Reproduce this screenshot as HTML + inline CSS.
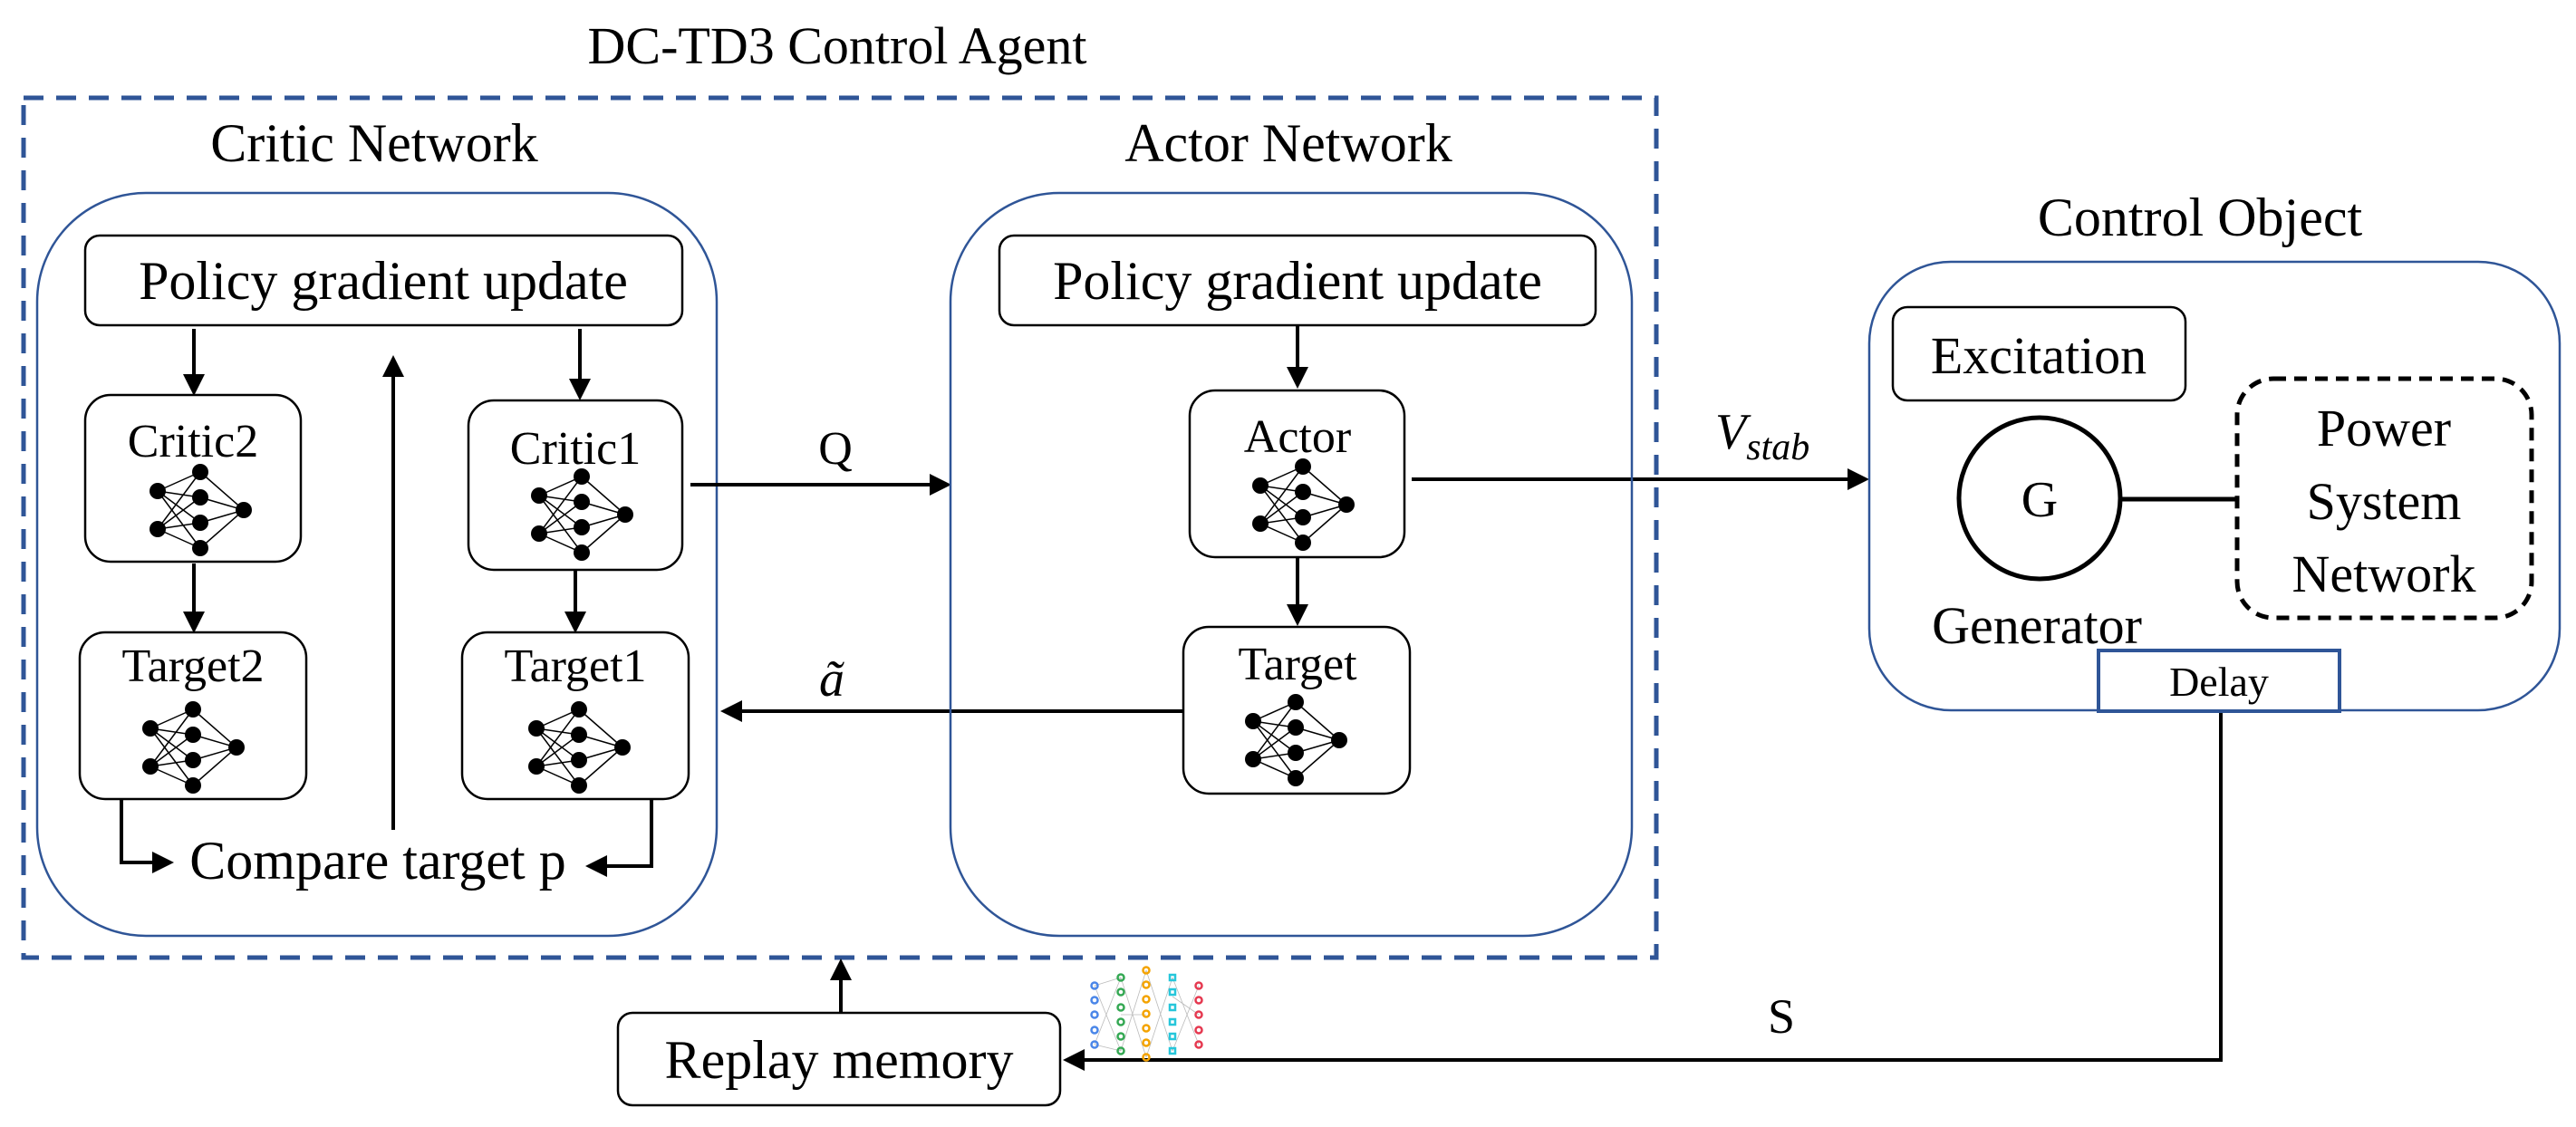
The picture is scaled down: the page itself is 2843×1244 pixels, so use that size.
<!DOCTYPE html>
<html><head><meta charset="utf-8"><style>
html,body{margin:0;padding:0;background:#fff;}
svg{display:block;font-family:"Liberation Serif","Times New Roman",Times,serif;}
svg text{font-family:"Liberation Serif","Times New Roman",Times,serif;fill:#000;}
</style></head><body>
<svg width="2843" height="1244" viewBox="0 0 2843 1244" xmlns="http://www.w3.org/2000/svg" font-family="Liberation Serif, Times New Roman, serif">
<defs>
<marker id="ah" markerWidth="6" markerHeight="6" refX="5" refY="3" orient="auto" markerUnits="strokeWidth">
<path d="M0,0 L6,3 L0,6 z" fill="#000"/>
</marker>
<g id="nn">
<g stroke="#000" stroke-width="1.5">
<line x1="0" y1="21" x2="47" y2="0"/><line x1="0" y1="21" x2="47" y2="28"/><line x1="0" y1="21" x2="47" y2="56"/><line x1="0" y1="21" x2="47" y2="84"/>
<line x1="0" y1="63" x2="47" y2="0"/><line x1="0" y1="63" x2="47" y2="28"/><line x1="0" y1="63" x2="47" y2="56"/><line x1="0" y1="63" x2="47" y2="84"/>
<line x1="47" y1="0" x2="95" y2="42"/><line x1="47" y1="28" x2="95" y2="42"/><line x1="47" y1="56" x2="95" y2="42"/><line x1="47" y1="84" x2="95" y2="42"/>
</g>
<g fill="#000">
<circle cx="0" cy="21" r="9"/><circle cx="0" cy="63" r="9"/>
<circle cx="47" cy="0" r="9"/><circle cx="47" cy="28" r="9"/><circle cx="47" cy="56" r="9"/><circle cx="47" cy="84" r="9"/>
<circle cx="95" cy="42" r="9"/>
</g>
</g>
</defs>

<text x="924" y="70" font-size="58" text-anchor="middle">DC-TD3 Control Agent</text>
<rect x="26" y="108" width="1802" height="949" fill="none" stroke="#2f5597" stroke-width="5" stroke-dasharray="22,14"/>

<text x="413" y="178" font-size="60" text-anchor="middle">Critic Network</text>
<rect x="41" y="213" width="750" height="820" rx="120" fill="none" stroke="#2f5597" stroke-width="2.5"/>
<rect x="94" y="260" width="659" height="99" rx="16" fill="none" stroke="#000" stroke-width="2.5"/>
<text x="423" y="330" font-size="60" text-anchor="middle">Policy gradient update</text>

<rect x="94" y="436" width="238" height="184" rx="28" fill="none" stroke="#000" stroke-width="2.5"/>
<text x="213" y="504" font-size="52" text-anchor="middle">Critic2</text>
<use href="#nn" x="174" y="521"/>
<rect x="517" y="442" width="236" height="187" rx="28" fill="none" stroke="#000" stroke-width="2.5"/>
<text x="635" y="512" font-size="52" text-anchor="middle">Critic1</text>
<use href="#nn" x="595" y="526"/>
<rect x="88" y="698" width="250" height="184" rx="28" fill="none" stroke="#000" stroke-width="2.5"/>
<text x="213" y="752" font-size="52" text-anchor="middle">Target2</text>
<use href="#nn" x="166" y="783"/>
<rect x="510" y="698" width="250" height="184" rx="28" fill="none" stroke="#000" stroke-width="2.5"/>
<text x="635" y="752" font-size="52" text-anchor="middle">Target1</text>
<use href="#nn" x="592" y="783"/>

<g stroke="#000" stroke-width="4" fill="none" marker-end="url(#ah)">
<line x1="214" y1="363" x2="214" y2="433"/>
<line x1="640" y1="363" x2="640" y2="438"/>
<line x1="214" y1="622" x2="214" y2="695"/>
<line x1="635" y1="630" x2="635" y2="695"/>
<line x1="434" y1="916" x2="434" y2="396"/>
<polyline points="134,882 134,952 188,952"/>
<polyline points="719,882 719,956 650,956"/>
<line x1="762" y1="535" x2="1046" y2="535"/>
<line x1="1306" y1="785" x2="799" y2="785"/>
<line x1="1558" y1="529" x2="2059" y2="529"/>
<line x1="928" y1="1118" x2="928" y2="1062"/>
<polyline points="2451,785 2451,1170 1177,1170"/>
<line x1="1432" y1="359" x2="1432" y2="425"/>
<line x1="1432" y1="615" x2="1432" y2="687"/>
</g>
<text x="417" y="970" font-size="60" text-anchor="middle">Compare target p</text>
<text x="922" y="512" font-size="52" text-anchor="middle">Q</text>
<text x="918" y="768" font-size="56" font-style="italic" text-anchor="middle">ã</text>

<text x="1422" y="178" font-size="60" text-anchor="middle">Actor Network</text>
<rect x="1049" y="213" width="752" height="820" rx="120" fill="none" stroke="#2f5597" stroke-width="2.5"/>
<rect x="1103" y="260" width="658" height="99" rx="16" fill="none" stroke="#000" stroke-width="2.5"/>
<text x="1432" y="330" font-size="60" text-anchor="middle">Policy gradient update</text>
<rect x="1313" y="431" width="237" height="184" rx="28" fill="none" stroke="#000" stroke-width="2.5"/>
<text x="1432" y="499" font-size="52" text-anchor="middle">Actor</text>
<use href="#nn" x="1391" y="515"/>
<rect x="1306" y="692" width="250" height="184" rx="28" fill="none" stroke="#000" stroke-width="2.5"/>
<text x="1432" y="750" font-size="52" text-anchor="middle">Target</text>
<use href="#nn" x="1383" y="775"/>

<text x="1893" y="495" font-size="56" font-style="italic">V<tspan font-size="42" dy="12">stab</tspan></text>

<text x="2428" y="260" font-size="60" text-anchor="middle">Control Object</text>
<rect x="2063" y="289" width="762" height="495" rx="90" fill="none" stroke="#2f5597" stroke-width="2.5"/>
<rect x="2089" y="339" width="323" height="103" rx="16" fill="none" stroke="#000" stroke-width="2.5"/>
<text x="2250" y="412" font-size="58" text-anchor="middle">Excitation</text>
<circle cx="2251" cy="550" r="89" fill="none" stroke="#000" stroke-width="5"/>
<text x="2251" y="570" font-size="56" text-anchor="middle">G</text>
<line x1="2340" y1="551" x2="2469" y2="551" stroke="#000" stroke-width="5"/>
<rect x="2469" y="418" width="325" height="264" rx="40" fill="none" stroke="#000" stroke-width="5" stroke-dasharray="14,9"/>
<text x="2631" y="492" font-size="58" text-anchor="middle">Power</text>
<text x="2631" y="573" font-size="58" text-anchor="middle">System</text>
<text x="2631" y="653" font-size="58" text-anchor="middle">Network</text>
<text x="2248" y="710" font-size="58" text-anchor="middle">Generator</text>
<rect x="2316" y="718" width="266" height="67" fill="#fff" stroke="#2f5597" stroke-width="4"/>
<text x="2449" y="768" font-size="46" text-anchor="middle">Delay</text>

<text x="1966" y="1140" font-size="54" text-anchor="middle">S</text>

<rect x="682" y="1118" width="488" height="102" rx="16" fill="#fff" stroke="#000" stroke-width="2.5"/>
<text x="926" y="1190" font-size="60" text-anchor="middle">Replay memory</text>

<g stroke="#bbb" stroke-width="0.8">
<path d="M1208,1088 L1237,1079 M1208,1153 L1237,1160 M1237,1079 L1265,1167 M1237,1160 L1265,1071 M1265,1071 L1294,1160 M1265,1167 L1294,1079 M1294,1079 L1323,1153 M1294,1160 L1323,1088 M1208,1088 L1237,1160 M1208,1153 L1237,1079 M1294,1100 L1323,1120 M1237,1120 L1265,1120"/>
</g>
<g fill="none" stroke-width="2.5">
<g stroke="#4a86e8"><circle cx="1208" cy="1088" r="3.5"/><circle cx="1208" cy="1104" r="3.5"/><circle cx="1208" cy="1120" r="3.5"/><circle cx="1208" cy="1137" r="3.5"/><circle cx="1208" cy="1153" r="3.5"/></g>
<g stroke="#34a853"><circle cx="1237" cy="1079" r="3.5"/><circle cx="1237" cy="1095" r="3.5"/><circle cx="1237" cy="1112" r="3.5"/><circle cx="1237" cy="1128" r="3.5"/><circle cx="1237" cy="1144" r="3.5"/><circle cx="1237" cy="1160" r="3.5"/></g>
<g stroke="#f4a300"><circle cx="1265" cy="1071" r="3.5"/><circle cx="1265" cy="1087" r="3.5"/><circle cx="1265" cy="1103" r="3.5"/><circle cx="1265" cy="1119" r="3.5"/><circle cx="1265" cy="1135" r="3.5"/><circle cx="1265" cy="1151" r="3.5"/><circle cx="1265" cy="1167" r="3.5"/></g>
<g stroke="#26c6da"><rect x="1291" y="1076" width="6" height="6"/><rect x="1291" y="1092" width="6" height="6"/><rect x="1291" y="1109" width="6" height="6"/><rect x="1291" y="1125" width="6" height="6"/><rect x="1291" y="1141" width="6" height="6"/><rect x="1291" y="1157" width="6" height="6"/></g>
<g stroke="#e53950"><circle cx="1323" cy="1088" r="3.5"/><circle cx="1323" cy="1104" r="3.5"/><circle cx="1323" cy="1120" r="3.5"/><circle cx="1323" cy="1137" r="3.5"/><circle cx="1323" cy="1153" r="3.5"/></g>
</g>
</svg>
</body></html>
